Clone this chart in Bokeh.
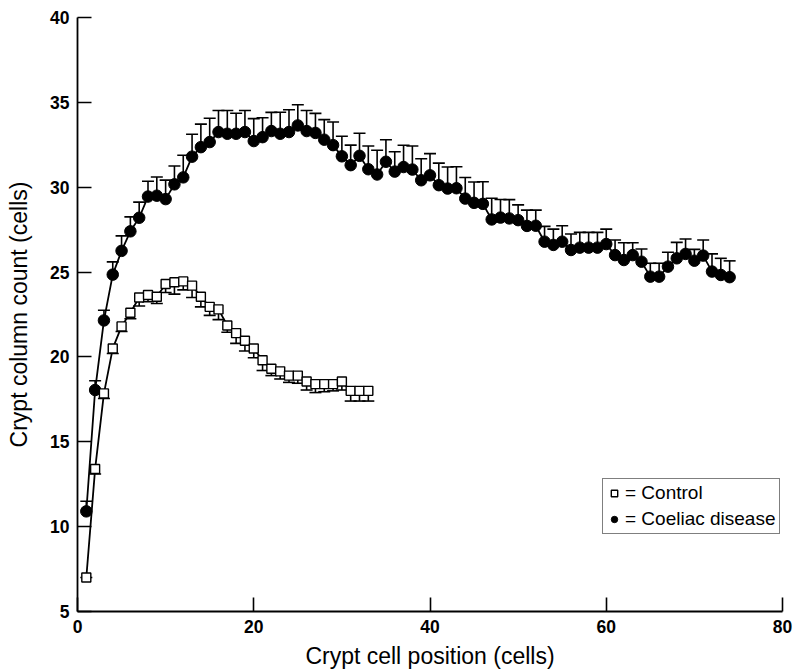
from bokeh.plotting import figure
from bokeh.models import Range1d, Whisker, TeeHead, ColumnDataSource, Legend, LegendItem, FixedTicker
from bokeh.embed import file_html
from bokeh.resources import INLINE

# ---- data ----
control_pos = list(range(1, 34))
control_mean = [7.0, 13.4, 17.85, 20.5, 21.8, 22.6, 23.5, 23.65, 23.55, 24.3,
                24.4, 24.45, 24.2, 23.55, 22.95, 22.8, 21.85, 21.4, 20.95, 20.5,
                19.8, 19.3, 19.15, 18.9, 18.9, 18.55, 18.4, 18.4, 18.4, 18.55,
                18.0, 18.0, 18.0]
control_err = [0.0, 0.3, 0.3, 0.3, 0.3, 0.35, 0.5, 0.4, 0.4, 0.5,
               0.7, 0.5, 0.7, 0.6, 0.5, 0.6, 0.4, 0.6, 0.6, 0.55,
               0.6, 0.4, 0.45, 0.4, 0.45, 0.5, 0.5, 0.45, 0.4, 0.5,
               0.6, 0.6, 0.6]

coeliac_pos = list(range(1, 75))
coeliac_mean = [10.9, 18.05, 22.15, 24.85, 26.25, 27.4, 28.2, 29.45, 29.5, 29.3,
                30.17, 30.58, 31.8, 32.36, 32.66, 33.25, 33.15, 33.15, 33.25, 32.72,
                32.95, 33.31, 33.15, 33.25, 33.64, 33.31, 33.2, 32.8, 32.48, 31.82,
                31.3, 31.85, 31.06, 30.75, 31.5, 30.92, 31.19, 31.04, 30.41, 30.7,
                30.12, 29.92, 29.94, 29.33, 29.08, 29.02, 28.1, 28.21, 28.16, 28.06,
                27.72, 27.73, 26.79, 26.6, 26.79, 26.3, 26.44, 26.44, 26.44, 26.65,
                26.0, 25.71, 26.0, 25.61, 24.73, 24.73, 25.32, 25.81, 26.07, 25.67,
                25.97, 25.03, 24.83, 24.7]
coeliac_err = [0.6, 0.55, 0.6, 0.75, 0.88, 0.85, 0.92, 0.9, 1.1, 1.12,
               1.08, 1.3, 1.32, 1.36, 1.4, 1.27, 1.37, 1.21, 1.27, 1.32,
               1.14, 1.1, 1.27, 1.31, 1.22, 1.21, 1.15, 1.18, 1.36, 1.18,
               1.18, 1.33, 1.37, 1.43, 1.3, 1.17, 1.28, 1.39, 1.27, 1.28,
               1.3, 1.27, 1.27, 1.24, 1.23, 1.3, 1.25, 1.07, 1.11, 0.9,
               0.93, 0.92, 0.9, 0.93, 0.94, 0.94, 0.9, 0.9, 0.9, 0.88,
               0.89, 1.02, 0.73, 0.75, 0.79, 0.79, 0.85, 0.94, 0.88, 0.67,
               0.92, 1.04, 0.98, 0.96]

x_ticks = [0, 20, 40, 60, 80]
y_ticks = [5, 10, 15, 20, 25, 30, 35, 40]
x_title = "Crypt cell position (cells)"
y_title = "Crypt column count (cells)"
labels = ["= Control", "= Coeliac disease"]

FONT = "Liberation Sans"

p = figure(width=793, height=671, output_backend="svg", toolbar_location=None,
           x_range=Range1d(0, 80), y_range=Range1d(5, 40),
           min_border_left=77, min_border_right=11, min_border_top=17,
           min_border_bottom=58)
p.outline_line_color = None
p.grid.visible = False
p.background_fill_color = "white"
p.border_fill_color = "white"

for ax in (p.xaxis[0], p.yaxis[0]):
    ax.major_tick_in = 14
    ax.major_tick_out = 0
    ax.minor_tick_in = 0
    ax.minor_tick_out = 0
    ax.axis_line_width = 1.8
    ax.axis_line_color = "black"
    ax.major_tick_line_width = 1.6
    ax.major_tick_line_color = "black"
    ax.major_label_text_font = FONT
    ax.major_label_text_font_style = "bold"
    ax.major_label_text_font_size = "17.5px"
    ax.major_label_text_color = "black"
    ax.axis_label_text_font = FONT
    ax.axis_label_text_font_style = "normal"
    ax.axis_label_text_font_size = "23px"
    ax.axis_label_text_color = "black"
    ax.major_label_standoff = 8

p.xaxis.ticker = FixedTicker(ticks=x_ticks)
p.yaxis.ticker = FixedTicker(ticks=y_ticks)
p.xaxis.axis_label = x_title
p.yaxis.axis_label = y_title
p.xaxis.axis_label_standoff = 7
p.yaxis.axis_label_standoff = 15

# sources
cs = ColumnDataSource(dict(x=control_pos, y=control_mean,
                           lo=[m - e for m, e in zip(control_mean, control_err)]))
ks = ColumnDataSource(dict(x=coeliac_pos, y=coeliac_mean,
                           hi=[m + e for m, e in zip(coeliac_mean, coeliac_err)]))

# coeliac error bars (upward)
wk = Whisker(source=ks, base="x", lower="y", upper="hi", dimension="height",
             line_color="black", line_width=1.6,
             upper_head=TeeHead(size=12, line_color="black", line_width=1.6),
             lower_head=None)
p.add_layout(wk)
p.line("x", "y", source=ks, line_color="black", line_width=1.8)
r_coel = p.scatter("x", "y", source=ks, marker="circle", size=11.5,
                   fill_color="black", line_color="black")

# control error bars (downward)
wc = Whisker(source=cs, base="x", lower="lo", upper="y", dimension="height",
             line_color="black", line_width=1.6,
             lower_head=TeeHead(size=12, line_color="black", line_width=1.6),
             upper_head=None)
p.add_layout(wc)
p.line("x", "y", source=cs, line_color="black", line_width=1.8)
r_ctrl = p.scatter("x", "y", source=cs, marker="square", size=9,
                   fill_color="white", line_color="black", line_width=1.4)

legend = Legend(items=[LegendItem(label=labels[0], renderers=[r_ctrl]),
                       LegendItem(label=labels[1], renderers=[r_coel])],
                location=(525, 77))
legend.label_text_font = FONT
legend.label_text_font_size = "19px"
legend.label_text_color = "black"
legend.border_line_color = "black"
legend.border_line_width = 1.2
legend.background_fill_color = "white"
legend.background_fill_alpha = 1
legend.padding = 3
legend.spacing = 4
legend.margin = 0
legend.glyph_width = 16
legend.glyph_height = 22
legend.label_standoff = 3
legend.label_height = 22
p.add_layout(legend)

open("out.html", "w").write(file_html(p, INLINE))
